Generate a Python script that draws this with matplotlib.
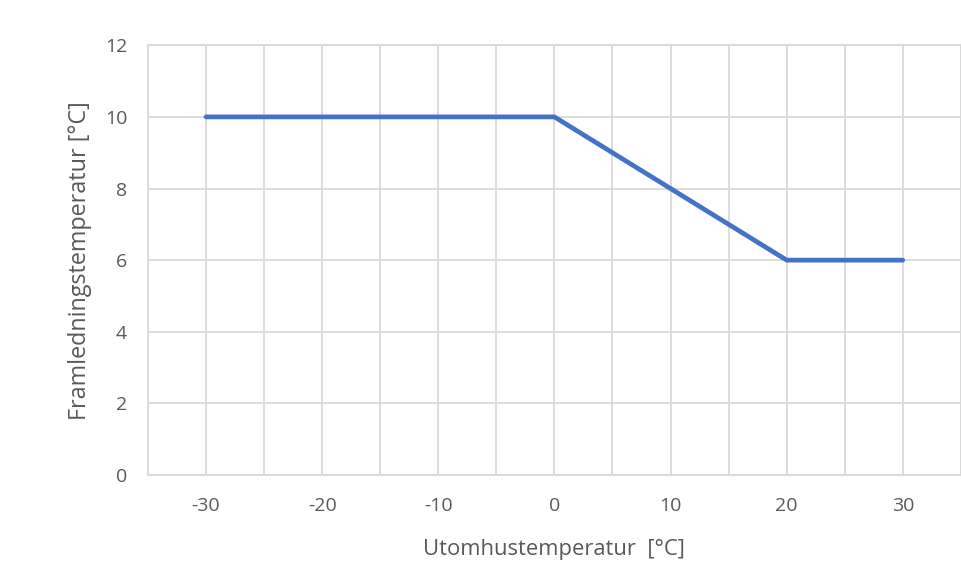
#!/usr/bin/env python3

import matplotlib.pyplot as plt

# outdoor temperature vs. supply temperature
outdoor_temp = [-30, 0, 20, 30]
supply_temp = [10, 10, 6, 6]

x_ticks = [-30, -20, -10, 0, 10, 20, 30]
y_ticks = [0, 2, 4, 6, 8, 10, 12]

GRID = "#d9d9d9"
TEXT = "#595959"


def main():
    plt.rcParams["font.family"] = ["Open Sans", "DejaVu Sans"]
    plt.rcParams["axes.unicode_minus"] = False

    fig = plt.figure(figsize=(9.62, 5.73), dpi=100)
    ax = fig.add_axes([0.1538, 0.171, 0.845, 0.750])

    ax.plot(outdoor_temp, supply_temp, color="#4472c4", linewidth=3.4,
            solid_capstyle="round", solid_joinstyle="round", zorder=3)

    ax.set_xlim(-35, 35)
    ax.set_ylim(0, 12)
    ax.set_xticks(x_ticks)
    ax.set_xticks(range(-35, 36, 5), minor=True)
    ax.set_yticks(y_ticks)
    ax.grid(True, which="both", color=GRID, linewidth=1.3)
    ax.tick_params(which="both", length=0)
    ax.tick_params(axis="x", pad=16, labelsize=14, labelcolor=TEXT)
    ax.tick_params(axis="y", pad=15, labelsize=14, labelcolor=TEXT)
    for s in ax.spines.values():
        s.set_color(GRID)
        s.set_linewidth(1.3)

    ax.set_xlabel("Utomhustemperatur  [°C]", fontsize=15.8, color=TEXT, labelpad=17)
    ax.set_ylabel("Framledningstemperatur [°C]", fontsize=16.8, color=TEXT, labelpad=9)

    fig.savefig("out.png", dpi=100)
    plt.close(fig)


if __name__ == "__main__":
    main()
